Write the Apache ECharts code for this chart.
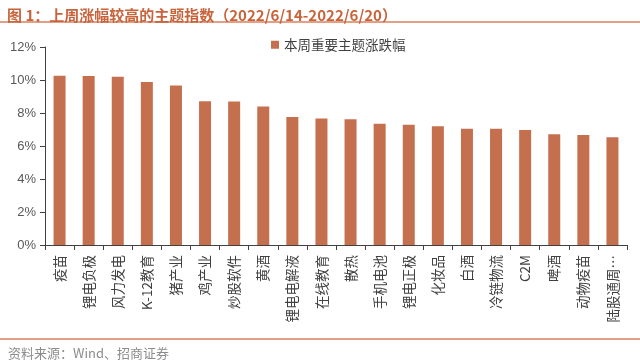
<!DOCTYPE html>
<html>
<head>
<meta charset="utf-8">
<script src="https://cdn.jsdelivr.net/npm/echarts@6/dist/echarts.min.js"></script>
<style>html,body{margin:0;padding:0;background:#fff;}#c{width:640px;height:360px;}</style>
</head>
<body>
<div id="c"></div>
<script>
const categories = ['疫苗','锂电负极','风力发电','K-12教育','猪产业','鸡产业','炒股软件','黄酒','锂电电解液','在线教育','散热','手机电池','锂电正极','化妆品','白酒','冷链物流','C2M','啤酒','动物疫苗','陆股通周…'];
const values = [10.26, 10.25, 10.2, 9.88, 9.66, 8.71, 8.69, 8.4, 7.76, 7.66, 7.62, 7.35, 7.29, 7.19, 7.05, 7.05, 6.97, 6.71, 6.67, 6.53];
const yTicks = [0, 2, 4, 6, 8, 10, 12];
const seriesName = '本周重要主题涨跌幅';

const chart = echarts.init(document.getElementById('c'), null, {renderer: 'canvas'});
chart.setOption({
  animation: false,
  title: [{
    text: '图 1：上周涨幅较高的主题指数（2022/6/14-2022/6/20）',
    left: 2, top: 3,
    textStyle: {color: '#C8643C', fontSize: 15, fontWeight: 'bold', fontFamily: 'Noto Sans CJK SC'}
  }, {
    text: '资料来源：Wind、招商证券',
    left: 3, top: 342,
    textStyle: {color: '#8c8c8c', fontSize: 13, fontWeight: 'normal', fontFamily: 'Noto Sans CJK SC'}
  }],
  graphic: [
    {type: 'line', shape: {x1: 0, y1: 22, x2: 640, y2: 22}, style: {stroke: '#D9805F', lineWidth: 1.5}},
    {type: 'line', shape: {x1: 0, y1: 339, x2: 640, y2: 339}, style: {stroke: '#D9805F', lineWidth: 1.5}}
  ],
  legend: {
    data: [seriesName],
    left: 266, top: 33,
    itemWidth: 8, itemHeight: 8, itemGap: 4,
    icon: 'rect',
    textStyle: {color: '#404040', fontSize: 13.5, fontFamily: 'Noto Sans CJK SC'}
  },
  grid: {left: 45, right: 13, top: 47, bottom: 115},
  xAxis: {
    type: 'category',
    data: categories,
    axisLine: {lineStyle: {color: '#404040', width: 1}},
    axisTick: {show: true, length: 5, lineStyle: {color: '#404040'}},
    axisLabel: {
      interval: 0,
      rotate: 90,
      color: '#404040',
      fontSize: 13.5,
      margin: 10,
      fontFamily: 'Noto Sans CJK SC'
    }
  },
  yAxis: {
    type: 'value',
    min: 0, max: 12, interval: 2,
    splitLine: {show: false},
    axisLine: {show: true, lineStyle: {color: '#404040', width: 1}},
    axisTick: {show: true, length: 5, lineStyle: {color: '#404040'}},
    axisLabel: {
      color: '#595959', fontSize: 13, margin: 9, fontFamily: 'Liberation Sans',
      formatter: v => yTicks.includes(v) ? v + '%' : ''
    }
  },
  series: [{
    name: seriesName,
    type: 'bar',
    data: values,
    barWidth: 12,
    itemStyle: {color: '#C4704F'}
  }]
});
</script>
</body>
</html>
